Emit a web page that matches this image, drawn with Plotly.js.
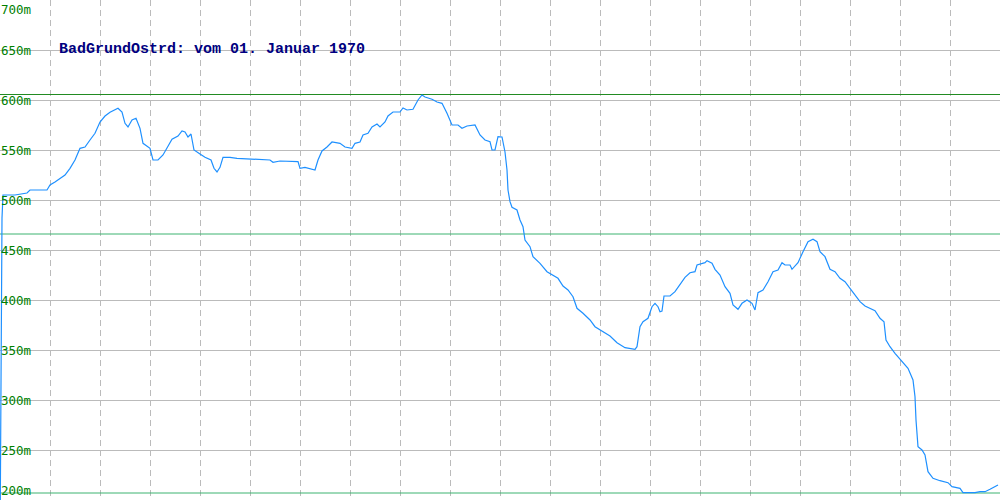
<!DOCTYPE html>
<html>
<head>
<meta charset="utf-8">
<script src="https://cdn.plot.ly/plotly-3.0.1.min.js"></script>
<style>html,body{margin:0;padding:0;background:#fff;}#chart{width:1000px;height:500px;}</style>
</head>
<body>
<div id="chart"></div>
<script>
// Profile: distance index and elevation (m)
const distance = [0,2,3,15,27,30,47,50,55,60,65,70,75,80,85,90,95,100,105,110,115,118,122,125,128,132,136,140,143,147,150,153,158,163,168,172,178,182,185,188,191,194,200,205,211,214,217,220,223,230,237,250,270,273,280,298,300,305,310,315,318,322,327,332,340,345,352,355,360,363,368,372,377,380,385,388,393,400,403,407,413,418,422,425,432,437,442,447,452,458,462,467,475,480,485,490,492,495,498,502,505,507,508,510,512,517,520,523,525,530,533,540,547,553,558,563,568,573,577,583,590,595,603,610,617,625,635,637,640,643,648,652,655,658,660,662,664,670,675,680,685,690,695,697,705,707,712,715,720,725,730,733,738,742,747,752,755,758,763,768,773,778,782,785,790,792,798,803,808,813,817,820,825,830,835,840,845,850,855,860,865,875,880,884,886,890,895,903,908,913,915,916,918,922,925,928,933,940,948,952,960,963,975,980,985,990,995,998];
const elevation = [150,482,505,505,507,510,510,515,518,521.7,525,531.7,540,551.7,553,560,566.7,578,584,587.7,590.7,591.7,588,576.7,573,580,581.7,571.7,556.7,554,551.7,540,540,545,553,560.7,564,569,568,563,566,550,546,542.7,540,531.7,528,532.7,542.7,542.7,541.7,541,540,537.7,539,538.3,531.7,532.7,531.7,530,540,549,553,558,556.7,553,551.7,556.7,558,565,566.7,573,576,573,578,584,588,588,592,590,590.7,600,605,603,600.7,598,596.7,586.7,575,575,571.7,574,575,565,560,558.3,550,550,563.3,563,548,530,510,498.3,492.7,490,480,473.3,460,453.3,443.3,436.7,428.3,425,421.7,414,410,403.3,391.7,386.7,380,373.3,368.3,364,357.3,352.3,350.7,353.3,373.3,378.3,381.7,393.3,396.7,393.3,388.3,389,404,404,408.3,415.5,422.7,427.3,428.3,435,437.3,439.3,436.7,430.7,425,413.3,406.7,395,390.7,396.7,400,396.7,390,407.3,410,418.3,428.3,430,437.3,435,435,430.7,437.3,448.3,458.3,460.7,458.3,448.3,443.3,430.7,428.3,421.7,418.3,411.7,405,398.3,394,389.3,381.7,378.3,360,353.3,346.7,337.3,331.7,320,303.3,280,253.3,250,245,228.3,221.7,219.3,217.3,213.3,211.7,207.3,207.3,208.3,208.3,210.7,213.3,215];

// Reference levels (max, mid, min)
const levelValues = [605.5, 466, 207];
const levelColors = ['#228B22', '#3CB371', '#3CB371'];

// Y tick labels
const yTickValues = [700,650,600,550,500,450,400,350,300,250,200];
const yTickLabels = ['700m','650m','600m','550m','500m','450m','400m','350m','300m','250m','200m'];

const titleText = 'BadGrundOstrd: vom 01. Januar 1970';

const xRange = [0, 1000];
const yRange = [200, 700];

const traces = [];
levelValues.forEach((v, i) => {
  traces.push({
    x: [xRange[0], xRange[1]], y: [v, v], type: 'scatter', mode: 'lines',
    line: {color: levelColors[i], width: 1}, hoverinfo: 'skip', showlegend: false
  });
});
traces.push({
  x: distance, y: elevation, type: 'scatter', mode: 'lines',
  line: {color: '#1E90FF', width: 1.2}, showlegend: false
});

const annotations = yTickValues.map((v, i) => ({
  xref: 'paper', yref: 'y', x: 0, y: v, xanchor: 'left',
  yanchor: v === yRange[1] ? 'top' : (v === yRange[0] ? 'bottom' : 'middle'),
  xshift: -1, showarrow: false, text: yTickLabels[i],
  font: {family: 'DejaVu Sans Mono, monospace', size: 12.5, color: '#008000'}
}));

const layout = {
  width: 1000, height: 500,
  margin: {l: 0, r: 0, t: 0, b: 0, pad: 0},
  paper_bgcolor: '#ffffff', plot_bgcolor: '#ffffff',
  title: {
    text: titleText, xref: 'container', yref: 'container',
    x: 0.059, xanchor: 'left', y: 0.904, yanchor: 'middle',
    font: {family: 'Liberation Mono, monospace', size: 15, color: '#000080', weight: 'bold'}
  },
  xaxis: {
    range: xRange, dtick: 50, tick0: 0, showticklabels: false, ticks: '',
    showgrid: true, gridcolor: '#bbbbbb', gridwidth: 1, griddash: '6px,4px',
    zeroline: false, showline: true, mirror: true, linecolor: '#bbbbbb', linewidth: 1
  },
  yaxis: {
    range: yRange, dtick: 50, tick0: 200, showticklabels: false, ticks: '',
    showgrid: true, gridcolor: '#bbbbbb', gridwidth: 1,
    zeroline: false, showline: true, mirror: true, linecolor: '#bbbbbb', linewidth: 1
  },
  annotations: annotations,
  showlegend: false
};

Plotly.newPlot('chart', traces, layout, {displayModeBar: false, staticPlot: true});
</script>
</body>
</html>
